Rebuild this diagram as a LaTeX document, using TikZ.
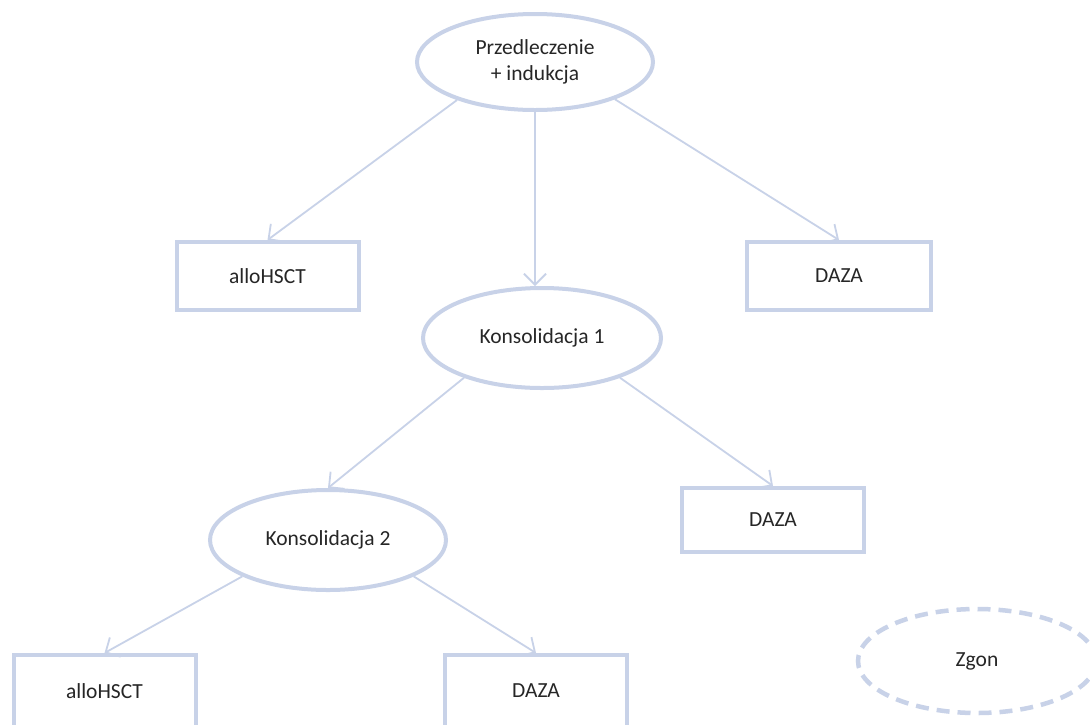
\documentclass[tikz,border=0pt]{standalone}
\usepackage{fontspec}
\setmainfont{Carlito}
\usetikzlibrary{shapes.geometric,arrows.meta}
\definecolor{lc}{RGB}{200,210,232}
\definecolor{tc}{RGB}{38,38,38}
\begin{document}
\begin{tikzpicture}[x=1pt,y=-1pt,
  font=\fontsize{21.5}{26.5}\selectfont, text=tc,
  oval/.style={ellipse, draw=lc, line width=4pt, minimum width=236pt, minimum height=96pt, inner sep=0pt, align=center},
  box/.style={rectangle, draw=lc, line width=4pt, minimum width=182pt, minimum height=68pt, inner sep=0pt},
  conn/.style={draw=lc, line width=1.8pt, -{Straight Barb[length=11pt,width=22pt]}}]
\clip (0,0) rectangle (1090,724);
\fill[white] (0,0) rectangle (1090,724);

\node[oval] (p) at (535,62) {Przedleczenie\\+ indukcja};
\node[box] (a1) at (267.5,276) {alloHSCT};
\node[box, minimum width=184pt] (d1) at (839,276) {DAZA};
\node[oval, minimum width=238pt, minimum height=100pt] (k1) at (542,338) {Konsolidacja 1};
\node[box, minimum height=64pt] (d2) at (773,520) {DAZA};
\node[oval, minimum height=100pt] (k2) at (328,540) {Konsolidacja 2};
\node[box, minimum height=72pt] (a2) at (104.5,691) {alloHSCT};
\node[box, minimum height=72pt] (d3) at (536,691) {DAZA};
\node[oval, draw=lc, line width=4.5pt, dash pattern=on 13pt off 8pt, minimum width=238pt, minimum height=104pt] (z) at (977,661) {Zgon};

\draw[conn] (p.206) -- (a1.north);
\draw[conn] (p.south) -- (p.south |- k1.north);
\draw[conn] (p.335) -- (d1.north);
\draw[conn] (k1.207) -- (k2.north);
\draw[conn] (k1.333) -- (d2.north);
\draw[conn] (k2.203) -- (a2.north);
\draw[conn] (k2.337) -- (d3.north);
\end{tikzpicture}
\end{document}
